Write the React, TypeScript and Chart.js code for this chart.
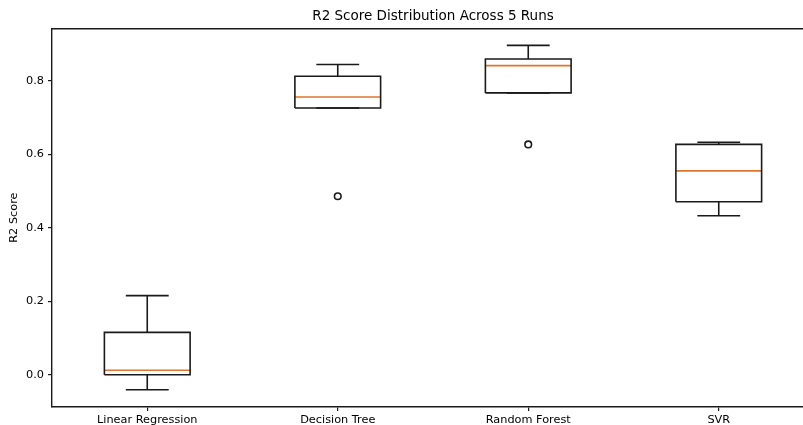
import React, { useEffect, useRef } from "react";
import { Chart, registerables } from "chart.js";

Chart.register(...registerables);

const categories = ["Linear Regression", "Decision Tree", "Random Forest", "SVR"];
const whiskerLow = [-0.04, 0.726, 0.767, 0.433];
const q1 = [0.001, 0.726, 0.767, 0.471];
const median = [0.013, 0.756, 0.841, 0.555];
const q3 = [0.116, 0.812, 0.859, 0.627];
const whiskerHigh = [0.216, 0.844, 0.896, 0.633];
const outliers: number[][] = [[], [0.486], [0.627], []];
const yTicks = [0, 0.2, 0.4, 0.6, 0.8];

const BOX_W = 0.45;
const CAP_W = BOX_W / 2;
const LINE = "#1a1a1a";
const MEDIAN = "#e0752c";
const TEXT = "#000";
const FONT = "'DejaVu Sans', sans-serif";

type P = { x: number; y: number | null };

function buildBoxes(): P[] {
  const pts: P[] = [];
  categories.forEach((_, i) => {
    const l = i - BOX_W / 2;
    const r = i + BOX_W / 2;
    pts.push({ x: l, y: q1[i] }, { x: r, y: q1[i] }, { x: r, y: q3[i] }, { x: l, y: q3[i] }, { x: l, y: q1[i] }, { x: i, y: null });
  });
  return pts;
}

function buildWhiskers(): P[] {
  const pts: P[] = [];
  categories.forEach((_, i) => {
    pts.push({ x: i, y: q1[i] }, { x: i, y: whiskerLow[i] }, { x: i, y: null });
    pts.push({ x: i, y: q3[i] }, { x: i, y: whiskerHigh[i] }, { x: i, y: null });
    pts.push({ x: i - CAP_W / 2, y: whiskerLow[i] }, { x: i + CAP_W / 2, y: whiskerLow[i] }, { x: i, y: null });
    pts.push({ x: i - CAP_W / 2, y: whiskerHigh[i] }, { x: i + CAP_W / 2, y: whiskerHigh[i] }, { x: i, y: null });
  });
  return pts;
}

function buildMedians(): P[] {
  const pts: P[] = [];
  categories.forEach((_, i) => {
    pts.push({ x: i - BOX_W / 2, y: median[i] }, { x: i + BOX_W / 2, y: median[i] }, { x: i, y: null });
  });
  return pts;
}

function buildOutliers(): P[] {
  const pts: P[] = [];
  outliers.forEach((arr, i) => arr.forEach((v) => pts.push({ x: i, y: v })));
  return pts;
}

export default function App() {
  const ref = useRef<HTMLCanvasElement | null>(null);

  useEffect(() => {
    if (!ref.current) return;
    const lineDs = (data: P[], color: string, width: number) => ({
      type: "line" as const,
      data,
      borderColor: color,
      borderWidth: width,
      pointRadius: 0,
      pointHoverRadius: 0,
      tension: 0,
      spanGaps: false,
      fill: false,
      showLine: true,
    });
    const yTickColor = (ctx: any) =>
      ctx.tick && yTicks.some((t) => Math.abs(t - ctx.tick.value) < 1e-9) ? LINE : "rgba(0,0,0,0)";
    const xTickColor = (ctx: any) =>
      ctx.tick && Number.isInteger(ctx.tick.value) && ctx.tick.value >= 0 && ctx.tick.value < categories.length
        ? LINE
        : "rgba(0,0,0,0)";
    const chart = new Chart(ref.current, {
      type: "scatter",
      data: {
        datasets: [
          lineDs(buildWhiskers(), LINE, 1.6) as any,
          lineDs(buildBoxes(), LINE, 1.6) as any,
          lineDs(buildMedians(), MEDIAN, 1.6) as any,
          {
            type: "scatter",
            data: buildOutliers(),
            pointRadius: 3.3,
            pointBorderWidth: 1.6,
            borderColor: LINE,
            backgroundColor: "rgba(0,0,0,0)",
            pointBackgroundColor: "rgba(0,0,0,0)",
            pointBorderColor: LINE,
          },
        ],
      },
      options: {
        animation: false,
        responsive: false,
        maintainAspectRatio: false,
        events: [],
        layout: { padding: { left: 0, right: 6, top: 0, bottom: 0 } },
        plugins: {
          legend: { display: false },
          tooltip: { enabled: false },
          title: {
            display: true,
            text: "R2 Score Distribution Across 5 Runs",
            fullSize: false,
            color: TEXT,
            font: { family: FONT, size: 13.5, weight: "normal" },
            padding: { top: 8, bottom: 4 },
          },
        },
        scales: {
          x: {
            type: "linear",
            position: "bottom",
            min: -0.5,
            max: 3.5,
            afterBuildTicks: (s: any) => {
              s.ticks = categories.map((_, i) => ({ value: i }));
            },
            afterFit: (s: any) => {
              s.height = 23;
            },
            ticks: {
              autoSkip: false,
              maxRotation: 0,
              minRotation: 0,
              padding: 2,
              color: TEXT,
              font: { family: FONT, size: 11.3 },
              callback: (v: any) => categories[v as number] ?? "",
            },
            grid: {
              display: true,
              drawOnChartArea: false,
              drawTicks: true,
              tickLength: 4,
              color: LINE,
              tickColor: xTickColor,
              lineWidth: 1.2,
            },
            border: { display: true, color: LINE, width: 1.4 },
          },
          x2: {
            type: "linear",
            position: "top",
            min: -0.5,
            max: 3.5,
            afterFit: (s: any) => {
              s.height = 0;
            },
            ticks: { display: false },
            grid: { display: false },
            border: { display: true, color: LINE, width: 1.4 },
          },
          y: {
            type: "linear",
            min: -0.0868,
            max: 0.9428,
            afterBuildTicks: (s: any) => {
              s.ticks = yTicks.map((v) => ({ value: v }));
            },
            afterFit: (s: any) => {
              s.width = 52;
            },
            title: {
              display: true,
              text: "R2 Score",
              color: TEXT,
              font: { family: FONT, size: 11.3 },
              padding: { top: 7, bottom: 0 },
            },
            ticks: {
              padding: 4,
              color: TEXT,
              font: { family: FONT, size: 11.3 },
              callback: (v: any) => Number(v).toFixed(1),
            },
            grid: {
              display: true,
              drawOnChartArea: false,
              drawTicks: true,
              tickLength: 4,
              color: LINE,
              tickColor: yTickColor,
              lineWidth: 1.2,
            },
            border: { display: true, color: LINE, width: 1.4 },
          },
        },
      } as any,
    });
    return () => chart.destroy();
  }, []);

  return (
    <div style={{ position: "absolute", left: 0, top: 0, width: 803, height: 425, overflow: "hidden", background: "#fff" }}>
      <canvas ref={ref} width={820} height={430} style={{ width: 820, height: 430, display: "block" }} />
    </div>
  );
}
